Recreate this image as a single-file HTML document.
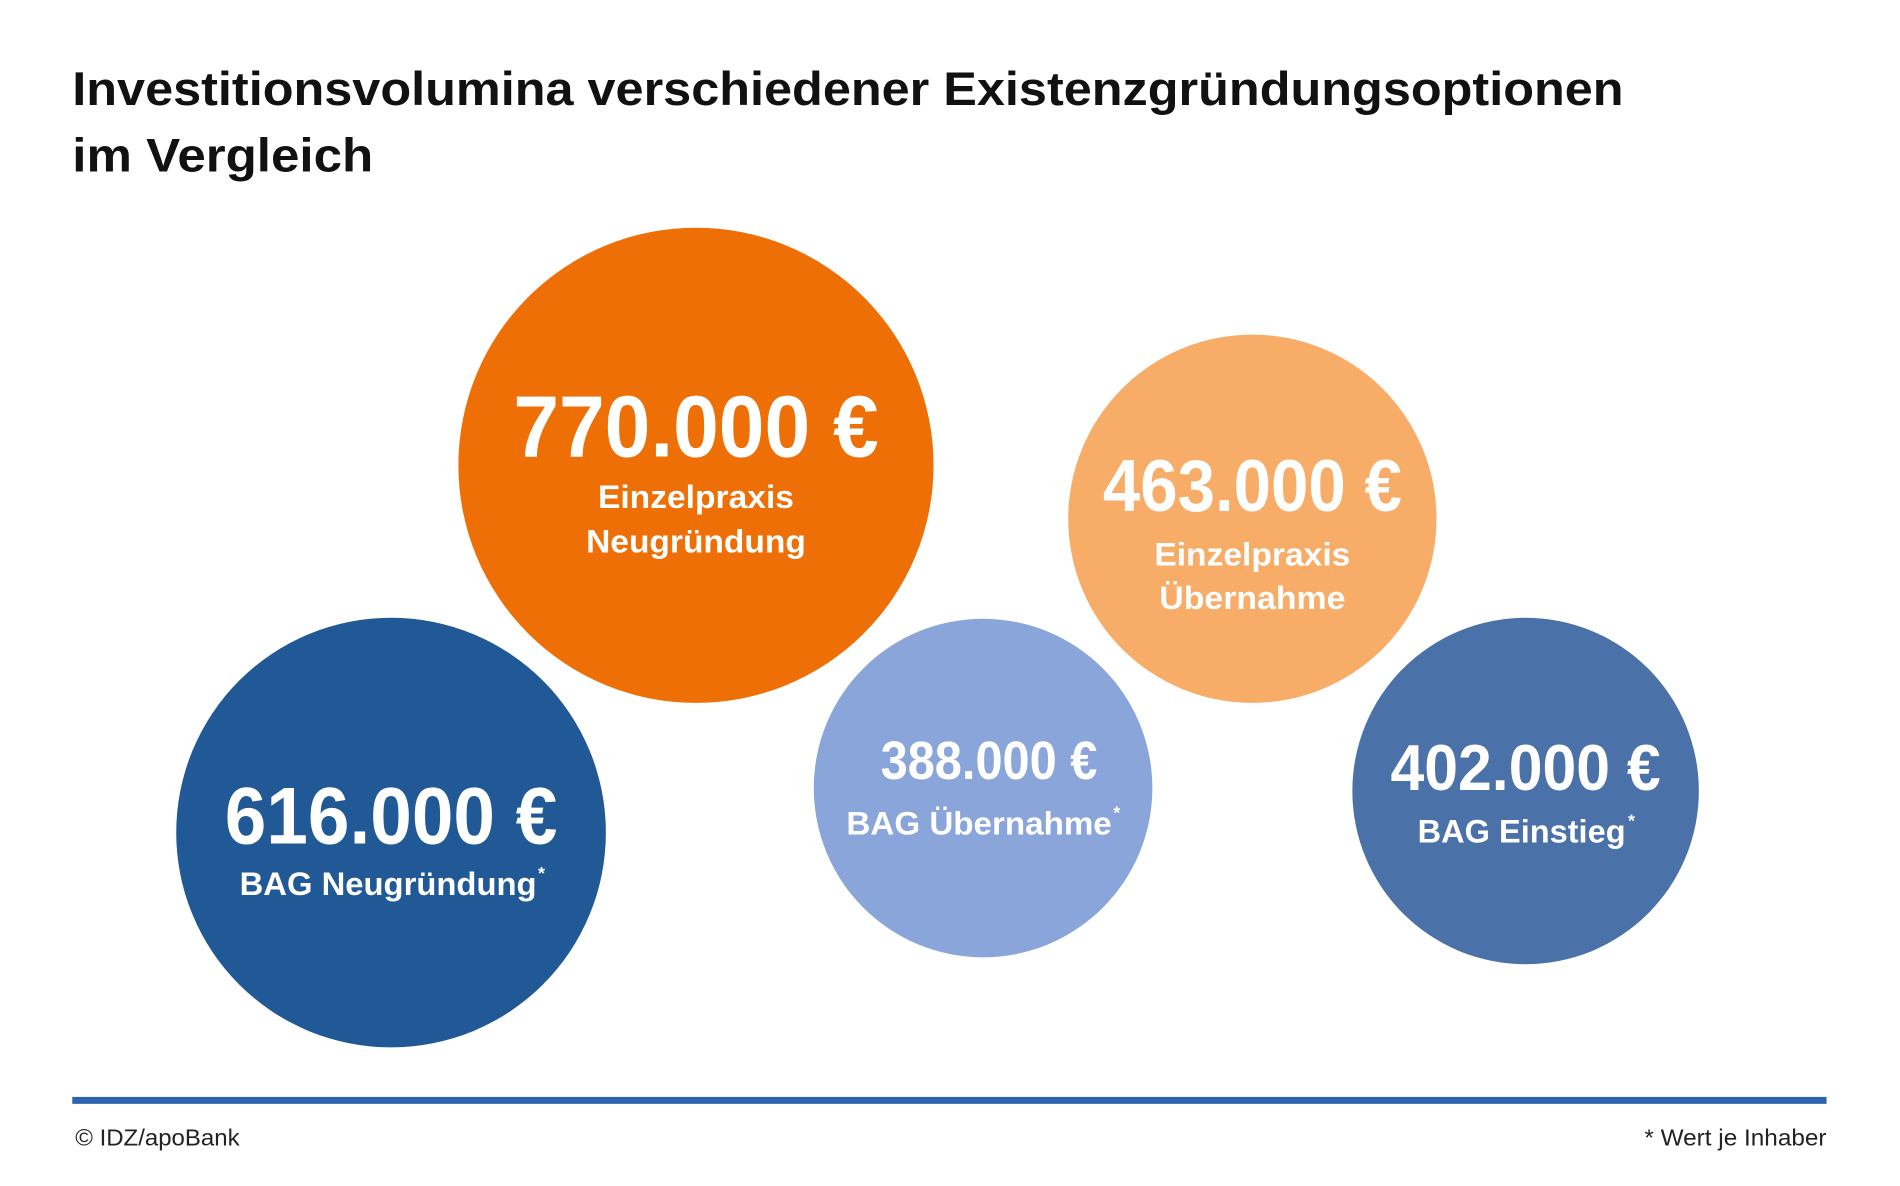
<!DOCTYPE html>
<html><head><meta charset="utf-8"><style>
html,body{margin:0;padding:0;background:#fff;}
svg{display:block;}
text{font-family:"Liberation Sans",sans-serif;}
</style></head><body>
<svg width="1900" height="1186" viewBox="0 0 1900 1186" xmlns="http://www.w3.org/2000/svg">
<rect width="1900" height="1186" fill="#fff"/>
<g transform="scale(0.99)">
<text x="73" y="106" font-size="48" font-weight="bold" fill="#111" textLength="1567" lengthAdjust="spacingAndGlyphs">Investitionsvolumina verschiedener Existenzgründungsoptionen</text>
<text x="73" y="173" font-size="48" font-weight="bold" fill="#111" textLength="304" lengthAdjust="spacingAndGlyphs">im Vergleich</text>

<circle cx="703" cy="470" r="240" fill="#EE6F06"/>
<circle cx="1265" cy="524" r="186" fill="#F7AC67"/>
<circle cx="395" cy="841" r="217" fill="#215896"/>
<circle cx="993" cy="796" r="171" fill="#8AA5D9"/>
<circle cx="1541" cy="799" r="175" fill="#4A71A8"/>

<g fill="#fff" font-weight="bold" text-anchor="middle">
<text x="703" y="461" font-size="88" textLength="369" lengthAdjust="spacingAndGlyphs">770.000 €</text>
<text x="703" y="513" font-size="33" textLength="198" lengthAdjust="spacingAndGlyphs">Einzelpraxis</text>
<text x="703" y="558" font-size="33" textLength="222" lengthAdjust="spacingAndGlyphs">Neugründung</text>

<text x="1265" y="516" font-size="74" textLength="302" lengthAdjust="spacingAndGlyphs">463.000 €</text>
<text x="1265" y="571" font-size="33" textLength="198" lengthAdjust="spacingAndGlyphs">Einzelpraxis</text>
<text x="1265" y="615" font-size="33" textLength="188" lengthAdjust="spacingAndGlyphs">Übernahme</text>

<text x="395" y="852" font-size="82" textLength="336" lengthAdjust="spacingAndGlyphs">616.000 €</text>
<text x="392" y="904" font-size="33" textLength="300" lengthAdjust="spacingAndGlyphs">BAG Neugründung</text>
<text x="547" y="888" font-size="18">*</text>

<text x="999" y="787" font-size="54" textLength="219" lengthAdjust="spacingAndGlyphs">388.000 €</text>
<text x="989" y="843" font-size="33" textLength="268" lengthAdjust="spacingAndGlyphs">BAG Übernahme</text>
<text x="1128" y="827" font-size="18">*</text>

<text x="1541" y="798" font-size="66" textLength="273" lengthAdjust="spacingAndGlyphs">402.000 €</text>
<text x="1537" y="851" font-size="33" textLength="210" lengthAdjust="spacingAndGlyphs">BAG Einstieg</text>
<text x="1648" y="835" font-size="18">*</text>
</g>

<rect x="73" y="1108" width="1772" height="7" fill="#2D64AE"/>
<text x="76" y="1157" font-size="23" fill="#222" textLength="166" lengthAdjust="spacingAndGlyphs">© IDZ/apoBank</text>
<text x="1845" y="1157" font-size="23" fill="#222" text-anchor="end" textLength="184" lengthAdjust="spacingAndGlyphs">* Wert je Inhaber</text>
</g>
</svg>
</body></html>
